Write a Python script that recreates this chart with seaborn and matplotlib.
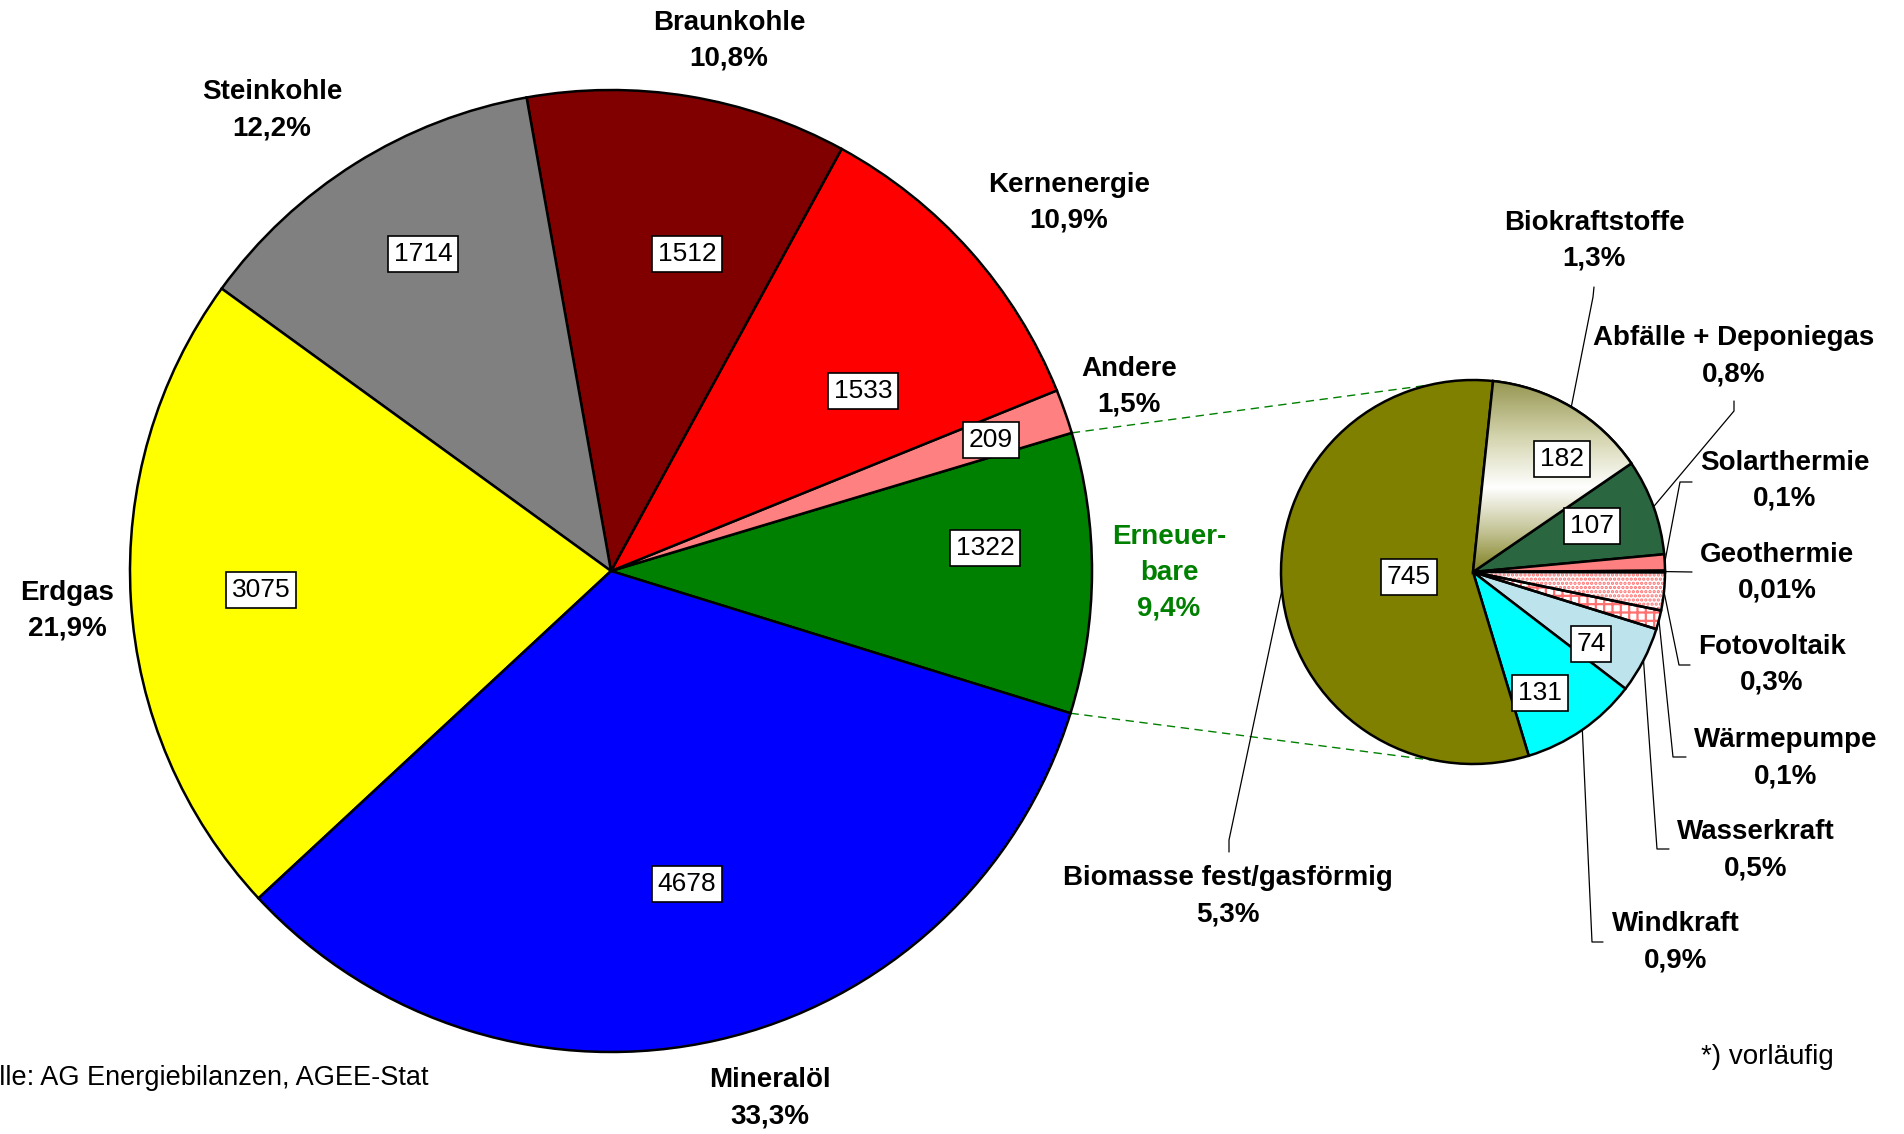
import numpy as np
import matplotlib
matplotlib.use("Agg")
import matplotlib.pyplot as plt
import matplotlib.patches as mpatches
from matplotlib.colors import LinearSegmentedColormap
import seaborn as sns

sns.set_theme(style="white")
plt.rcParams['font.family'] = ['Liberation Sans', 'DejaVu Sans']
plt.rcParams['text.color'] = 'black'
plt.rcParams['hatch.linewidth'] = 1.6

W, H = 1904, 1134

# Primaerenergieverbrauch, PJ
main_names = ["Erneuer-\nbare", "Andere", "Kernenergie", "Braunkohle",
              "Steinkohle", "Erdgas", "Mineralöl"]
main_values = [1322, 209, 1533, 1512, 1714, 3075, 4678]
main_pct = ["9,4%", "1,5%", "10,9%", "10,8%", "12,2%", "21,9%", "33,3%"]
main_colors = ["#008000", "#FF8080", "#FF0000", "#800000",
               "#808080", "#FFFF00", "#0000FF"]

# Erneuerbare aufgeteilt
ren_names = ["Biokraftstoffe", "Abfälle + Deponiegas", "Solarthermie",
             "Geothermie", "Fotovoltaik", "Wärmepumpe", "Wasserkraft",
             "Windkraft", "Biomasse fest/gasförmig"]
ren_values = [182, 107, 18, 2, 42, 21, 74, 131, 745]
ren_pct = ["1,3%", "0,8%", "0,1%", "0,01%", "0,3%", "0,1%", "0,5%",
           "0,9%", "5,3%"]
ren_boxed = [True, True, False, False, False, False, True, True, True]
ren_colors = ["#D8D8B0", "#2A6640", "#FF8080", "#FFFFFF", "#FFFFFF",
              "#FFFFFF", "#BDE3EC", "#00FFFF", "#808000"]

# layout (pixel positions, y from top)
main_center, main_r = (611, 571), 481
ren_center, ren_r = (1473, 572), 192
main_box_pos = [(985, 548), (991, 440), (863, 391), (687, 254),
                (423, 254), (261, 590), (687, 884)]
main_lab_pos = [(1169, 573), (1129, 387), (1069, 203), (729, 41),
                (272, 110), (67, 611), (770, 1098)]
ren_box_pos = [(1562, 459), (1592, 526), None, None, None, None,
               (1591, 644), (1540, 693), (1409, 577)]
ren_lab_pos = [(1594, 241), (1734, 356), (1785, 481), (1777, 573),
               (1772, 665), (1786, 758), (1756, 850), (1676, 942),
               (1228, 896)]
ren_leaders = [[(1593, 297), (1594, 287)], [(1734, 411), (1734, 401)],
               [(1680, 482), (1692, 482)], [(1692, 572)],
               [(1679, 665), (1690, 665)], [(1673, 757), (1686, 757)],
               [(1657, 849), (1669, 849)], [(1592, 942), (1603, 942)],
               [(1229, 840), (1229, 852)]]


def fy(y):
    return H - y


fig = plt.figure(figsize=(W / 100, H / 100), dpi=100)
ax = fig.add_axes([0, 0, 1, 1])

edge = dict(edgecolor="black", linewidth=1.8)
main_wedges, _ = ax.pie(main_values, colors=main_colors, startangle=-17.2,
                        counterclock=True,
                        center=(main_center[0], fy(main_center[1])),
                        radius=main_r, wedgeprops=edge, frame=False)
ren_wedges, _ = ax.pie(ren_values, colors=ren_colors, startangle=84,
                       counterclock=False,
                       center=(ren_center[0], fy(ren_center[1])),
                       radius=ren_r, wedgeprops=edge, frame=False)

# gradient fill for Biokraftstoffe
w = ren_wedges[0]
cx, cy = w.center
grad_cmap = LinearSegmentedColormap.from_list(
    "bio", [(0, "#808020"), (0.2, "#C0C090"), (0.44, "#FFFFFF"),
            (0.7, "#D5D5B0"), (1, "#959550")])
img = ax.imshow(np.linspace(0, 1, 256).reshape(-1, 1), cmap=grad_cmap,
                extent=(cx, cx + ren_r, cy, cy + ren_r), origin="lower",
                aspect="auto", zorder=1.2)
img.set_clip_path(w)

# hatched wedges
for i, hatch in [(4, "...."), (5, "++")]:
    w = ren_wedges[i]
    w.set_hatch(hatch)
    w.set_edgecolor("#FF7070")
    w.set_linewidth(0)

for i in [0, 4, 5]:
    w = ren_wedges[i]
    ax.add_patch(mpatches.Wedge(w.center, w.r, w.theta1, w.theta2,
                                fill=False, edgecolor="black",
                                linewidth=1.8, zorder=1.5))

# dashed connectors
ew = main_wedges[0]
for a_main, a_ren in [(ew.theta2, 103), (ew.theta1, -99)]:
    x0 = ew.center[0] + main_r * np.cos(np.radians(a_main))
    y0 = ew.center[1] + main_r * np.sin(np.radians(a_main))
    x1 = ren_wedges[0].center[0] + ren_r * np.cos(np.radians(a_ren))
    y1 = ren_wedges[0].center[1] + ren_r * np.sin(np.radians(a_ren))
    ax.plot([x0, x1], [y0, y1], color="#008000", lw=1.0,
            dashes=(6, 4), zorder=0.5)

box = dict(boxstyle="square,pad=0.22", fc="white", ec="black", lw=1.2)
lab_kw = dict(ha="center", va="center", fontsize=20, fontweight="bold",
              linespacing=1.5, multialignment="center")

for val, pos in zip(main_values, main_box_pos):
    ax.text(pos[0], fy(pos[1]), str(val), ha="center", va="center",
            fontsize=19, bbox=box, zorder=3)
for name, pct, pos in zip(main_names, main_pct, main_lab_pos):
    col = "#008000" if name.startswith("Erneuer") else "black"
    ax.text(pos[0], fy(pos[1]), f"{name}\n{pct}", color=col, **lab_kw)

for val, pos, show in zip(ren_values, ren_box_pos, ren_boxed):
    if show:
        ax.text(pos[0], fy(pos[1]), str(val), ha="center", va="center",
                fontsize=19, bbox=box, zorder=3)
for name, pct, pos in zip(ren_names, ren_pct, ren_lab_pos):
    ax.text(pos[0], fy(pos[1]), f"{name}\n{pct}", **lab_kw)

for w, pts in zip(ren_wedges, ren_leaders):
    mid = np.radians((w.theta1 + w.theta2) / 2)
    xs = [w.center[0] + ren_r * np.cos(mid)] + [p[0] for p in pts]
    ys = [w.center[1] + ren_r * np.sin(mid)] + [fy(p[1]) for p in pts]
    ax.plot(xs, ys, color="black", lw=0.9, zorder=0.8)

ax.text(429, fy(1078), "Quelle: AG Energiebilanzen, AGEE-Stat",
        ha="right", va="center", fontsize=19.5)
ax.text(1767, fy(1057), "*) vorläufig", ha="center", va="center",
        fontsize=20)

ax.set_xlim(0, W)
ax.set_ylim(0, H)
ax.set_aspect("equal")
ax.axis("off")

fig.savefig("out.png", dpi=100, facecolor="white")
